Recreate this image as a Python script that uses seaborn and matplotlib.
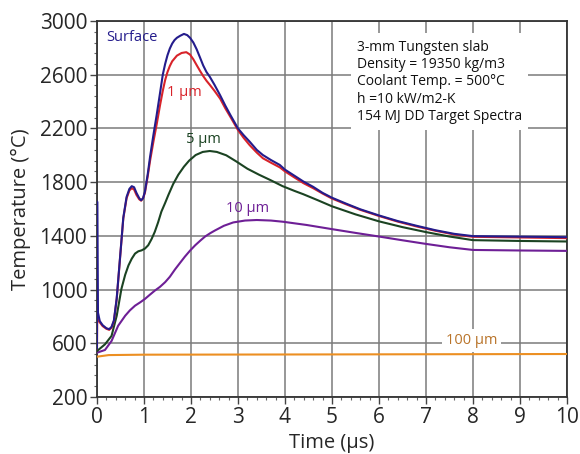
import numpy as np
import pandas as pd
import matplotlib
matplotlib.use("Agg")
import matplotlib.pyplot as plt
from matplotlib.ticker import AutoMinorLocator
import seaborn as sns

# Temperature histories at several depths in the tungsten slab (time in µs, T in °C)
t_surface = [0.0, 0.004, 0.02, 0.06, 0.12, 0.2, 0.26, 0.31, 0.36, 0.42, 0.49, 0.56, 0.63, 0.69,
             0.74, 0.79, 0.84, 0.9, 0.94, 0.98, 1.02, 1.08, 1.13, 1.2, 1.27, 1.34, 1.4, 1.45,
             1.5, 1.55, 1.6, 1.65, 1.7, 1.77, 1.85, 1.92, 1.98, 2.05, 2.12, 2.19, 2.26, 2.33,
             2.4, 2.5, 2.62, 2.73, 2.84, 3.0, 3.12, 3.25, 3.4, 3.53, 3.7, 3.89, 4.0, 4.2,
             4.39, 4.6, 4.8, 5.0, 5.3, 5.6, 6.0, 6.4, 6.8, 7.2, 7.6, 8.0, 9.0, 10.0]
T_surface = [560, 1655, 830, 765, 735, 712, 705, 722, 770, 935, 1235, 1535, 1690, 1750,
             1770, 1762, 1720, 1680, 1665, 1680, 1730, 1860, 1990, 2150, 2300, 2460, 2600, 2680,
             2745, 2795, 2832, 2858, 2875, 2890, 2904, 2895, 2875, 2840, 2790, 2730, 2669, 2620,
             2585, 2525, 2447, 2370, 2299, 2200, 2150, 2101, 2040, 2002, 1965, 1928, 1893, 1848,
             1805, 1765, 1720, 1684, 1640, 1598, 1552, 1510, 1475, 1442, 1415, 1398, 1394, 1390]

t_1um = [0.0, 0.005, 0.05, 0.12, 0.2, 0.26, 0.31, 0.36, 0.42, 0.49, 0.56, 0.63, 0.69, 0.74,
         0.79, 0.84, 0.9, 0.94, 0.98, 1.02, 1.08, 1.13, 1.2, 1.27, 1.34, 1.4, 1.45, 1.5, 1.55,
         1.6, 1.7, 1.8, 1.9, 1.98, 2.05, 2.12, 2.19, 2.26, 2.33, 2.4, 2.5, 2.62, 2.73, 2.84,
         3.0, 3.12, 3.25, 3.4, 3.53, 3.7, 3.89, 4.0, 4.2, 4.39, 4.6, 4.8, 5.0, 5.3, 5.6, 6.0,
         6.4, 6.8, 7.2, 7.6, 8.0, 9.0, 10.0]
T_1um = [560, 792, 760, 728, 708, 700, 716, 765, 930, 1230, 1530, 1680, 1738, 1755,
         1745, 1705, 1672, 1662, 1680, 1720, 1845, 1960, 2100, 2230, 2370, 2480, 2560, 2620, 2665,
         2700, 2742, 2762, 2768, 2750, 2715, 2672, 2630, 2590, 2555, 2525, 2480, 2422, 2350, 2285,
         2188, 2130, 2075, 2020, 1978, 1945, 1910, 1880, 1835, 1793, 1755, 1715, 1678, 1635, 1594,
         1548, 1506, 1470, 1438, 1410, 1393, 1388, 1383]

t_5um = [0.0, 0.17, 0.31, 0.42, 0.52, 0.6, 0.67, 0.74, 0.81, 0.88, 0.95, 1.02, 1.09, 1.16,
         1.23, 1.3, 1.37, 1.45, 1.52, 1.62, 1.73, 1.85, 1.96, 2.1, 2.25, 2.4, 2.55, 2.75, 2.96,
         3.2, 3.45, 3.68, 3.95, 4.2, 4.39, 4.7, 5.0, 5.5, 6.0, 6.5, 7.0, 7.5, 8.0, 9.0, 10.0]
T_5um = [542, 592, 655, 805, 1005, 1110, 1180, 1230, 1268, 1285, 1292, 1305, 1330, 1375,
         1430, 1500, 1580, 1645, 1705, 1785, 1855, 1915, 1960, 2002, 2025, 2032, 2025, 2000, 1955,
         1900, 1855, 1817, 1770, 1735, 1710, 1665, 1620, 1560, 1508, 1465, 1428, 1395, 1368, 1362, 1358]

t_10um = [0.0, 0.17, 0.31, 0.45, 0.6, 0.7, 0.81, 0.92, 1.02, 1.12, 1.23, 1.34, 1.45, 1.55,
          1.66, 1.77, 1.87, 1.98, 2.09, 2.2, 2.3, 2.41, 2.51, 2.7, 2.9, 3.15, 3.4, 3.7, 3.96,
          4.46, 5.0, 5.5, 6.0, 6.5, 7.0, 7.5, 8.0, 9.0, 10.0]
T_10um = [530, 550, 617, 730, 805, 845, 880, 905, 930, 960, 992, 1020, 1055, 1095,
          1150, 1200, 1245, 1290, 1330, 1365, 1395, 1420, 1440, 1475, 1500, 1514, 1518, 1514, 1505,
          1481, 1450, 1422, 1395, 1367, 1340, 1315, 1295, 1291, 1288]

t_100um = [0.0, 0.25, 1.0, 5.0, 10.0]
T_100um = [500, 512, 515, 517, 520]

series_names = ["Surface", "1 µm", "5 µm", "10 µm", "100 µm"]
series_colors = ["#241c8c", "#d8232a", "#1b4322", "#6e1f96", "#ec8f22"]

x_ticks = [0, 1, 2, 3, 4, 5, 6, 7, 8, 9, 10]
y_ticks = [200, 600, 1000, 1400, 1800, 2200, 2600, 3000]

info_lines = ["3-mm Tungsten slab", "Density = 19350 kg/m3", "Coolant Temp. = 500°C",
              "h =10 kW/m2-K", "154 MJ DD Target Spectra"]

frames = []
for name, tt, TT in zip(series_names,
                        [t_surface, t_1um, t_5um, t_10um, t_100um],
                        [T_surface, T_1um, T_5um, T_10um, T_100um]):
    frames.append(pd.DataFrame({"time": tt, "temp": TT, "series": name}))
df = pd.concat(frames, ignore_index=True)

sns.set_style("white")
plt.rcParams["font.family"] = ["Open Sans", "DejaVu Sans"]

fig = plt.figure(figsize=(5.8, 4.54), dpi=100)
ax = fig.add_axes([0.1672, 0.1256, 0.8104, 0.8281])
ax.set_axisbelow(True)

# draw the deeper layers first so the surface trace sits on top
palette = dict(zip(series_names, series_colors))
for name in series_names[::-1]:
    sub = df[df["series"] == name]
    sns.lineplot(data=sub, x="time", y="temp", color=palette[name], lw=1.5,
                 sort=False, estimator=None, ax=ax, legend=False, zorder=3)

ax.set_xlim(0, 10)
ax.set_ylim(200, 3000)
ax.set_xticks(x_ticks)
ax.set_yticks(y_ticks)
ax.xaxis.set_minor_locator(AutoMinorLocator(5))
ax.yaxis.set_minor_locator(AutoMinorLocator(5))
ax.grid(True, which="major", color="#7a7a7a", lw=1.1)
ax.tick_params(which="major", direction="out", length=5, width=1, color="#444444",
               labelsize=15, pad=2, bottom=True, left=True)
ax.tick_params(which="minor", direction="out", length=2.5, width=0.8, color="#666666",
               bottom=True, left=True)
for sp in ax.spines.values():
    sp.set_color("#333333")
    sp.set_linewidth(1.3)

ax.set_xlabel("Time (µs)", fontsize=14.5, labelpad=4)
ax.set_ylabel("Temperature (°C)", fontsize=14.5, labelpad=6)

# curve labels
ax.text(0.2, 2880, "Surface", color=series_colors[0], fontsize=10.5, va="center", ha="left", zorder=5)
ax.text(1.85, 2470, "1 µm", color=series_colors[1], fontsize=10.5, va="center", ha="center", zorder=5)
ax.text(2.26, 2114, "5 µm", color=series_colors[2], fontsize=10.5, va="center", ha="center", zorder=5)
ax.text(3.2, 1607, "10 µm", color=series_colors[3], fontsize=10.5, va="center", ha="center", zorder=5)
ax.text(7.97, 621, "100 µm", color="#b9742a", fontsize=10.5, va="center", ha="center", zorder=5,
        bbox=dict(boxstyle="square,pad=0.25", fc="white", ec="none"))

# simulation parameters
ax.text(5.53, 2862, "\n".join(info_lines), fontsize=10, va="top", ha="left", color="#111111",
        linespacing=1.22, zorder=5,
        bbox=dict(boxstyle="square,pad=0.45", fc="white", ec="none"))

fig.savefig("out.png", dpi=100)
